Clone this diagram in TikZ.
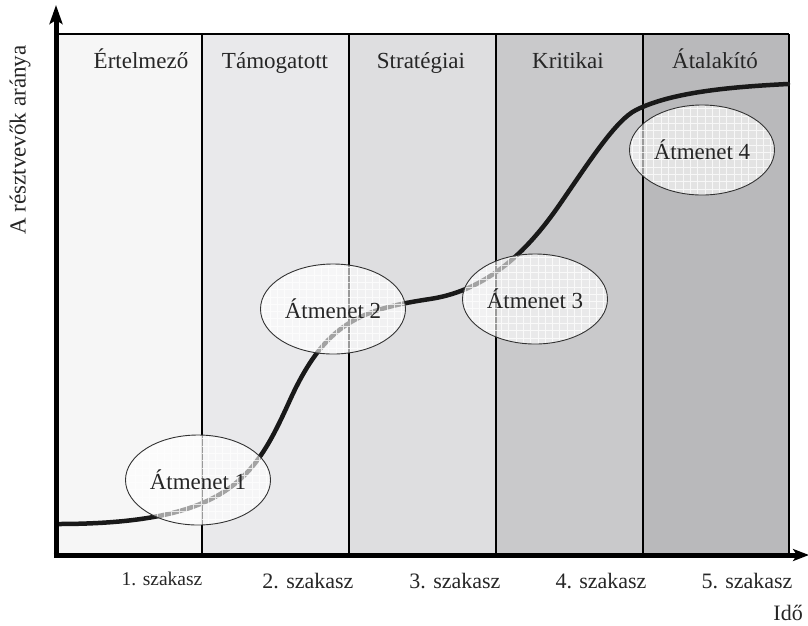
\documentclass[tikz,border=0pt]{standalone}
\usepackage{fontspec}
\setmainfont{Liberation Serif}
\usetikzlibrary{arrows.meta,shapes.geometric}
\definecolor{bandA}{HTML}{F6F6F6}
\definecolor{bandB}{HTML}{E9E9EB}
\definecolor{bandC}{HTML}{DEDEE0}
\definecolor{bandD}{HTML}{C9C9CB}
\definecolor{bandE}{HTML}{B9B9BB}
\begin{document}
\begin{tikzpicture}[x=1pt,y=-1pt,
  bandline/.style={line width=1.4pt,black},
  axisline/.style={line width=5pt,black},
  toplabel/.style={font=\fontsize{23}{27}\selectfont,anchor=base,text=black!85},
  steplabel/.style={font=\fontsize{22}{26}\selectfont,anchor=base,text=black!85},
  trans/.style={ellipse,draw=black!80,line width=0.9pt,fill=white,fill opacity=0.6,text opacity=1,
    minimum width=145pt,minimum height=90pt,inner sep=0pt,
    font=\fontsize{23}{27}\selectfont,text=black!85,
    path picture={\draw[white,draw opacity=0.75,line width=0.6pt,step=7.3pt]
      (path picture bounding box.south west) grid (path picture bounding box.north east);}},
  curve/.style={line width=4.5pt,black!90,line cap=round}
]
\useasboundingbox (0,0) rectangle (808,625);
\fill[white] (0,0) rectangle (808,625);
% bands
\fill[bandA] (57,34) rectangle (202,553);
\fill[bandB] (202,34) rectangle (349,553);
\fill[bandC] (349,34) rectangle (496,553);
\fill[bandD] (496,34) rectangle (643,553);
\fill[bandE] (643,34) rectangle (789,553);
\draw[bandline] (56,34) -- (789,34);
\foreach \xx in {202,349,496,643,789} {\draw[bandline] (\xx,34) -- (\xx,553);}
% band labels
\node[toplabel] (b1) at (141,68) {Értelmező};
\node[toplabel] (b2) at (275,68) {Támogatott};
\node[toplabel] (b3) at (421,68) {Stratégiai};
\node[toplabel] (b4) at (568,68) {Kritikai};
\node[toplabel] (b5) at (715,68) {Átalakító};
% curve
\draw[curve] (57,524) .. controls (230,524) and (255,477) .. (290,400)
  .. controls (325,323) and (360,309.5) .. (430,299)
  .. controls (490,290) and (530,247.5) .. (560,204)
  .. controls (590,160.5) and (616,120) .. (636,110)
  .. controls (671,92.5) and (728,87) .. (788,84);
% transitions
\node[trans] (e1) at (198,480) {Átmenet 1};
\node[trans] (e2) at (333,309) {Átmenet 2};
\node[trans] (e3) at (535,299) {Átmenet 3};
\node[trans] (e4) at (702,150) {Átmenet 4};
% axes
\coordinate (o) at (56,555);
\coordinate (ytip) at (56,5);
\coordinate (xtip) at (809,555);
\draw[axisline,-{Stealth[length=19pt,width=13pt,inset=4pt]}] ([yshift=-2.5pt]o) -- (ytip);
\draw[axisline,-{Stealth[length=16pt,width=12pt,inset=4pt]}] ([xshift=-2.5pt]o) -- (xtip);
% axis labels
\node[font=\fontsize{23}{27}\selectfont,rotate=90,text=black!85] (yl) at (20,140) {A résztvevők aránya};
\node[font=\fontsize{22}{26}\selectfont,anchor=base east,text=black!85,inner sep=1pt] (xl) at (804,620) {Idő};
% step labels
\node[steplabel,font=\fontsize{19.5}{23}\selectfont] (s1) at (162,585) {1. szakasz};
\node[steplabel] (s2) at (308,588) {2. szakasz};
\node[steplabel] (s3) at (455,588) {3. szakasz};
\node[steplabel] (s4) at (601,588) {4. szakasz};
\node[steplabel] (s5) at (747,588) {5. szakasz};
\end{tikzpicture}
\end{document}
